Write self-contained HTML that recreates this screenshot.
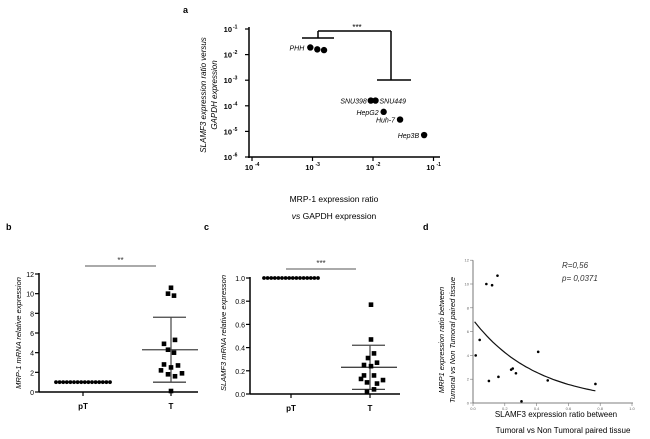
<!DOCTYPE html>
<html><head><meta charset="utf-8"><style>
html,body{margin:0;padding:0;background:#fff;}
svg{display:block;font-family:"Liberation Sans",sans-serif;}
</style></head><body>
<svg id="fig" width="650" height="439" viewBox="0 0 650 439" xmlns="http://www.w3.org/2000/svg">
<g id="pa"></g>
<g id="pb"></g>
<g id="pc"></g>
<g id="pd"></g>
</svg>
<script>
// Panel a data
const aNames=["PHH","PHH2","PHH3","SNU398","SNU449","HepG2","Huh-7","Hep3B"];
const aMrp=[0.00092,0.0012,0.00155,0.0092,0.011,0.015,0.028,0.07];
const aSlam=[0.019,0.016,0.015,0.00016,0.00016,0.000058,0.000029,0.0000072];
const aXTicks=[-4,-3,-2,-1];
const aYTicks=[-1,-2,-3,-4,-5,-6];
// Panel b data
const bPT=[1,1,1,1,1,1,1,1,1,1,1,1,1,1,1,1];
const bT=[10.6,10,9.8,4.9,5.3,4.3,4.0,2.8,2.7,2.5,2.2,1.8,1.6,1.9,0.1];
const bStats=[4.3,7.6,1.0];
const bTicks=[0,2,4,6,8,10,12];
// Panel c data
const cPT=[1,1,1,1,1,1,1,1,1,1,1,1,1,1,1,1];
const cT=[0.77,0.47,0.35,0.31,0.25,0.24,0.27,0.16,0.16,0.13,0.12,0.1,0.09,0.04,0.02];
const cStats=[0.23,0.42,0.04];
const cTicks=[0,0.2,0.4,0.6,0.8,1.0];
// Panel d data
const dX=[0.017,0.042,0.084,0.12,0.154,0.10,0.16,0.24,0.25,0.27,0.305,0.41,0.47,0.77];
const dY=[4.0,5.3,10.0,9.9,10.7,1.85,2.2,2.8,2.9,2.5,0.14,4.3,1.9,1.6];
const dFit=[7.0,-2.5];
const dXTicks=[0,0.2,0.4,0.6,0.8,1.0];
const dYTicks=[0,2,4,6,8,10,12];

const NS="http://www.w3.org/2000/svg";
function mk(p,t,at,txt){const e=document.createElementNS(NS,t);for(const k in at)e.setAttribute(k,at[k]);if(txt!==undefined)e.textContent=txt;p.appendChild(e);return e;}
function ln(p,x1,y1,x2,y2,w,c){return mk(p,"line",{x1,y1,x2,y2,stroke:c||"#000","stroke-width":w||1.5});}

// ---------- Panel a
const pa=document.getElementById("pa");
const ax=v=>252+(Math.log10(v)+4)*60.5;
const ay=v=>29+(-1-Math.log10(v))*25.6;
let t=mk(pa,"text",{x:183,y:13,"font-size":9,"font-weight":"bold"},"a");

ln(pa,249,27,249,158,1.5);ln(pa,248,157,440,157,1.5);
aYTicks.forEach(k=>{const y=ay(Math.pow(10,k));ln(pa,245,y,249,y,1.2);
 const e=mk(pa,"text",{x:232,y:y+3,"font-size":7.5,"font-weight":"bold","text-anchor":"end"},"10");
 
 mk(pa,"text",{x:233,y:y-0.5,"font-size":5,"font-weight":"bold"},String(k));});
aXTicks.forEach(k=>{const x=ax(Math.pow(10,k));ln(pa,x,157,x,161,1.2);
 const e=mk(pa,"text",{x:x-3,y:170,"font-size":7.5,"font-weight":"bold","text-anchor":"middle"},"10");
 
 mk(pa,"text",{x:x+3,y:166,"font-size":5,"font-weight":"bold"},String(k));});
aMrp.forEach((v,i)=>{const c=mk(pa,"circle",{cx:ax(v),cy:ay(aSlam[i]),r:3.2,fill:"#000"});
 });
const lab=[["PHH",-6,3,"end",0],["SNU398",-4,3,"end",3],["SNU449",4,3,"start",4],["HepG2",-5,3,"end",5],["Huh-7",-5,3,"end",6],["Hep3B",-5,3,"end",7]];
lab.forEach(l=>{const i=l[4];const e=mk(pa,"text",{x:ax(aMrp[i])+l[1],y:ay(aSlam[i])+l[2],"font-size":7,"font-style":"italic","text-anchor":l[3]},l[0]);
 });
// bracket
ln(pa,302,38,334,38,1.5);ln(pa,318,31,318,38,1.5);ln(pa,318,31,391,31,1.5);ln(pa,391,31,391,80,1.5);ln(pa,377,80,411,80,1.5);
t=mk(pa,"text",{x:357,y:30,"font-size":8,"text-anchor":"middle"},"***");
t=mk(pa,"text",{transform:"translate(206,95) rotate(-90)","font-size":8,"font-style":"italic","text-anchor":"middle"},"SLAMF3 expression ratio versus");

mk(pa,"text",{transform:"translate(217,95) rotate(-90)","font-size":8,"font-style":"italic","text-anchor":"middle"},"GAPDH expression");
t=mk(pa,"text",{x:334,y:202,"font-size":8.5,"text-anchor":"middle"},"MRP-1 expression ratio");

t=mk(pa,"text",{x:334,y:219,"font-size":8.5,"text-anchor":"middle"});
mk(t,"tspan",{"font-style":"italic"},"vs");mk(t,"tspan",{}," GAPDH expression");

// ---------- generic dot plot
function dotPlot(g,o){
 const y=v=>o.y0-(v-o.vmin)/(o.vmax-o.vmin)*(o.y0-o.y1);
 t=mk(g,"text",{x:o.lx,y:230,"font-size":9,"font-weight":"bold"},o.letter);
 
 ln(g,o.x0,o.y1-1,o.x0,o.y0,1.5);ln(g,o.x0,o.y0,o.xe,o.y0,1.5);
 o.ticks.forEach(v=>{ln(g,o.x0-4,y(v),o.x0,y(v),1.2);
  const e=mk(g,"text",{x:o.x0-5,y:y(v)+3,"font-size":7,"text-anchor":"end"},o.fmt(v));
  });
 [[o.xp,"pT"],[o.xt,"T"]].forEach(c=>{ln(g,c[0],o.y0,c[0],o.y0+4,1.2);
  const e=mk(g,"text",{x:c[0],y:o.y0+17,"font-size":8,"font-weight":"bold","text-anchor":"middle"},c[1]);
  });
 o.pt.forEach((v,i)=>{const c=mk(g,"circle",{cx:o.xp-27+i*54/(o.pt.length-1),cy:y(v),r:1.9,fill:"#000"});
  });
 const st=o.stats;
 ln(g,o.xt,y(st[1]),o.xt,y(st[2]),1.2,"#444");
 ln(g,o.xt-29,y(st[0]),o.xt+27,y(st[0]),1.3,"#444");
 ln(g,o.xt-18,y(st[1]),o.xt+15,y(st[1]),1.3,"#444");
 ln(g,o.xt-18,y(st[2]),o.xt+15,y(st[2]),1.3,"#444");
 const offs=o.offs;
 o.tv.forEach((v,i)=>{const r=mk(g,"rect",{x:o.xt+offs[i]-2.3,y:y(v)-2.3,width:4.6,height:4.6,fill:"#000"});
  });
 ln(g,o.sx1,o.sy,o.sx2,o.sy,1,"#555");
 t=mk(g,"text",{x:(o.sx1+o.sx2)/2,y:o.sy-3,"font-size":8,"text-anchor":"middle",fill:"#333"},o.sig);
 
 t=mk(g,"text",{transform:`translate(${o.tx},${o.ty}) rotate(-90)`,"font-size":7.5,"font-style":"italic","text-anchor":"middle"},o.title);
 
}
dotPlot(document.getElementById("pb"),{letter:"b",lx:6,x0:39,xe:198,y0:392,y1:274,vmin:0,vmax:12,ticks:bTicks,fmt:v=>String(v),
 xp:83,xt:171,pt:bPT,tv:bT,stats:bStats,offs:[0,-3,3,-7,4,-3,3,-7,7,0,-10,-3,4,11,0],
 sx1:85,sx2:156,sy:266,sig:"**",tx:21,ty:333,title:"MRP-1 mRNA relative expression"});
dotPlot(document.getElementById("pc"),{letter:"c",lx:204,x0:250,xe:400,y0:394,y1:278,vmin:0,vmax:1,ticks:cTicks,fmt:v=>v.toFixed(1),
 xp:291,xt:370,pt:cPT,tv:cT,stats:cStats,offs:[1,1,4,-2,-6,1,7,-6,4,-9,13,-3,7,4,-3],
 sx1:286,sx2:356,sy:269,sig:"***",tx:226,ty:333,title:"SLAMF3  mRNA relative expresson"});

// ---------- Panel d
const pd=document.getElementById("pd");
const dx=v=>473+v*159, dy=v=>403-v*11.9;
t=mk(pd,"text",{x:423,y:230,"font-size":9,"font-weight":"bold"},"d");
ln(pd,473,dy(12),473,403,0.8,"#555");ln(pd,473,403,633,403,0.8,"#555");
dYTicks.forEach(v=>{ln(pd,470,dy(v),473,dy(v),0.6,"#777");
 const e=mk(pd,"text",{x:469,y:dy(v)+1.5,"font-size":4,"text-anchor":"end",fill:"#666"},String(v));
 });
dXTicks.forEach(v=>{ln(pd,dx(v),403,dx(v),406,0.6,"#777");
 const e=mk(pd,"text",{x:dx(v),y:410,"font-size":4,"text-anchor":"middle",fill:"#666"},v.toFixed(1));
 });
let pts=[];for(let i=0;i<=40;i++){const x=0.01+i*(0.77-0.01)/40;pts.push(dx(x).toFixed(1)+","+dy(dFit[0]*Math.exp(dFit[1]*x)).toFixed(1));}
t=mk(pd,"polyline",{points:pts.join(" "),fill:"none",stroke:"#111","stroke-width":1.2});
dX.forEach((v,i)=>{const c=mk(pd,"circle",{cx:dx(v),cy:dy(dY[i]),r:1.3,fill:"#000"});
 });
t=mk(pd,"text",{x:562,y:268,"font-size":8,"font-style":"italic",fill:"#333"},"R=0,56");
t=mk(pd,"text",{x:562,y:281,"font-size":8,"font-style":"italic",fill:"#333"},"p= 0,0371");
t=mk(pd,"text",{transform:"translate(444,340) rotate(-90)","font-size":7.5,"font-style":"italic","text-anchor":"middle"},"MRP1 expression ratio between");

mk(pd,"text",{transform:"translate(455,340) rotate(-90)","font-size":7.5,"font-style":"italic","text-anchor":"middle"},"Tumoral vs Non Tumoral paired tissue");
t=mk(pd,"text",{x:556,y:417,"font-size":8,"text-anchor":"middle"},"SLAMF3 expression ratio between");

mk(pd,"text",{x:563,y:433,"font-size":8,"text-anchor":"middle"},"Tumoral vs Non Tumoral paired tissue");
</script>
</body></html>
